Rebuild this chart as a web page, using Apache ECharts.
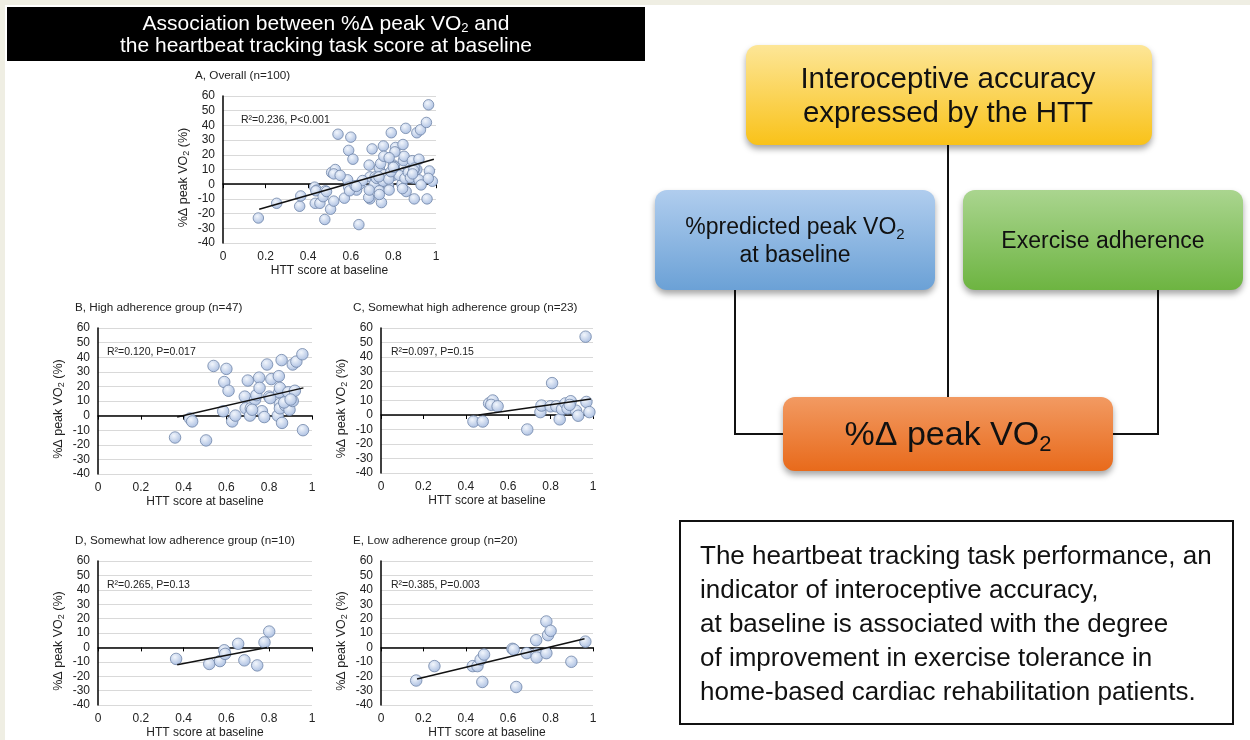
<!DOCTYPE html>
<html>
<head>
<meta charset="utf-8">
<script src="https://cdn.jsdelivr.net/npm/echarts@6/dist/echarts.min.js"></script>
<style>
html, body { margin: 0; padding: 0; background: #fff; }
#main { width: 1250px; height: 740px; }
</style>
</head>
<body>
<div id="main"></div>
<script>
// HTT score (x) vs %Δ peak VO2 (y), one list of points per adherence group
const highAdherence = [
    [0.36, -15], [0.43, -2], [0.44, -4], [0.505, -17], [0.54, 34], [0.60, 32], [0.59, 23], [0.61, 17],
    [0.585, 3], [0.627, -4], [0.642, 0], [0.70, 24], [0.686, 13], [0.69, 5], [0.714, 5], [0.71, 0],
    [0.734, 11], [0.74, 14], [0.753, 26], [0.755, 19], [0.766, 3], [0.777, -1], [0.79, 35], [0.80, 13],
    [0.81, 25], [0.84, 0], [0.845, 27], [0.847, 16], [0.85, 19], [0.85, 8], [0.85, 5], [0.858, 38],
    [0.86, -5], [0.875, 7], [0.886, 10], [0.889, 16], [0.895, 4], [0.91, 10], [0.91, 35], [0.927, 37],
    [0.92, 17], [0.955, 42], [0.958, -10], [0.72, 4], [0.805, 12], [0.87, 9], [0.90, 11]
];
const somewhatHighAdherence = [
    [0.436, -4.5], [0.48, -4.5], [0.51, 8], [0.527, 10], [0.52, 7], [0.55, 6], [0.69, -10], [0.752, 2],
    [0.757, 6.5], [0.807, 22], [0.80, 6], [0.843, -3], [0.827, 6], [0.854, 4], [0.87, 8], [0.88, 4.5],
    [0.895, 9.5], [0.92, 3], [0.93, -0.5], [0.965, 54], [0.969, 9], [0.983, 2], [0.89, 7]
];
const somewhatLowAdherence = [
    [0.365, -8], [0.52, -11.5], [0.57, -9.5], [0.59, -2], [0.594, -4.5], [0.655, 2.5], [0.684, -9],
    [0.744, -12.5], [0.778, 3.5], [0.80, 11]
];
const lowAdherence = [
    [0.166, -23], [0.252, -13], [0.433, -13], [0.455, -13], [0.47, -8.5], [0.486, -5], [0.478, -24],
    [0.62, -1], [0.626, -1.5], [0.638, -27.5], [0.687, -4], [0.732, 5], [0.734, -4.5], [0.734, -7],
    [0.78, 18], [0.788, 8.5], [0.80, 11.5], [0.78, -4], [0.898, -10], [0.964, 4]
];
const overall = highAdherence.concat(somewhatHighAdherence, somewhatLowAdherence, lowAdherence);

// fitted trend line end points for each panel
const trendA = [[0.17, -17], [0.99, 17]];
const trendB = [[0.37, -1], [0.96, 19]];
const trendC = [[0.46, 0], [0.99, 11]];
const trendD = [[0.37, -12], [0.79, 0]];
const trendE = [[0.17, -22], [0.96, 6]];

const panelTitles = [
    'A, Overall (n=100)',
    'B, High adherence group (n=47)',
    'C, Somewhat high adherence group (n=23)',
    'D, Somewhat low adherence group (n=10)',
    'E, Low adherence group (n=20)'
];
const statLabels = [
    'R²=0.236, P<0.001',
    'R²=0.120, P=0.017',
    'R²=0.097, P=0.15',
    'R²=0.265, P=0.13',
    'R²=0.385, P=0.003'
];
const summaryLines = [
    'The heartbeat tracking task performance, an',
    'indicator of interoceptive accuracy,',
    'at baseline is associated with the degree',
    'of improvement in exercise tolerance in',
    'home-based cardiac rehabilitation patients.'
];

const panelPoints = [overall, highAdherence, somewhatHighAdherence, somewhatLowAdherence, lowAdherence];
const panelTrends = [trendA, trendB, trendC, trendD, trendE];

// layout of the five small plots
const panelBoxes = [
    { left: 223, top: 96, width: 213, height: 147, statX: 18, titleX: 195 },
    { left: 98, top: 328, width: 214, height: 146, statX: 9, titleX: 75 },
    { left: 381, top: 328, width: 212, height: 145, statX: 10, titleX: 353 },
    { left: 98, top: 561, width: 214, height: 146, statX: 9, titleX: 75 },
    { left: 381, top: 561, width: 212, height: 146, statX: 10, titleX: 353 }
];

const FONT = '"Liberation Sans", Arial, sans-serif';

function initChart() {
    const chart = echarts.init(document.getElementById('main'));
    const grid = [], xAxis = [], yAxis = [], series = [], title = [];
    const graphic = [];

    panelBoxes.forEach((b, i) => {
        grid.push({ left: b.left, top: b.top, width: b.width, height: b.height });

        // zero line with small ticks
        xAxis.push({
            gridIndex: i, type: 'value', min: 0, max: 1, interval: 0.2,
            axisLine: { onZero: true, lineStyle: { color: '#000', width: 1.5 } },
            axisTick: { show: true, length: 4, lineStyle: { color: '#000' } },
            axisLabel: { show: false },
            splitLine: { show: false }
        });
        // labels along the bottom
        xAxis.push({
            gridIndex: i, type: 'value', min: 0, max: 1, interval: 0.2, position: 'bottom',
            axisLine: { show: false, onZero: false },
            axisTick: { show: false },
            axisLabel: { margin: 8, fontFamily: FONT, fontSize: 12, color: '#222' },
            splitLine: { show: false },
            name: 'HTT score at baseline', nameLocation: 'middle', nameGap: 22,
            nameTextStyle: { fontFamily: FONT, fontSize: 12, color: '#222' }
        });
        yAxis.push({
            gridIndex: i, type: 'value', min: -40, max: 60, interval: 10,
            axisLine: { show: true, onZero: false, lineStyle: { color: '#000', width: 1.5 } },
            axisTick: { show: false },
            axisLabel: { margin: 8, fontFamily: FONT, fontSize: 12, color: '#222' },
            splitLine: { lineStyle: { color: '#d9d9d9', width: 1 } },
            name: '{a|%Δ peak VO}{s|2}{a| (%)}', nameLocation: 'middle', nameRotate: 90, nameGap: 32,
            nameTextStyle: {
                padding: [0, 16, 0, 0],
                rich: {
                    a: { fontFamily: FONT, fontSize: 12.5, color: '#222', lineHeight: 15 },
                    s: { fontFamily: FONT, fontSize: 9, color: '#222', lineHeight: 10, verticalAlign: 'bottom' }
                }
            }
        });

        series.push({
            type: 'scatter', xAxisIndex: 2 * i, yAxisIndex: i,
            data: panelPoints[i],
            symbolSize: i === 0 ? 10.5 : 11.5,
            itemStyle: {
                color: new echarts.graphic.RadialGradient(0.4, 0.35, 0.75, [
                    { offset: 0, color: '#f2f6fc' },
                    { offset: 1, color: '#a2b8de' }
                ]),
                borderColor: '#7085a8', borderWidth: 0.8, opacity: 1
            },
            z: 3
        });
        series.push({
            type: 'line', xAxisIndex: 2 * i, yAxisIndex: i,
            data: panelTrends[i], symbol: 'none', silent: true,
            lineStyle: { color: '#111', width: 1.5 }, z: 4
        });

        title.push({
            text: panelTitles[i], padding: 0,
            left: b.titleX,
            top: b.top - 26,
            textStyle: { fontFamily: FONT, fontSize: 11.7, fontWeight: 'normal', color: '#222' }
        });
        graphic.push({
            type: 'text', left: b.left + b.statX, top: b.top + 19, z: 10,
            style: { text: statLabels[i], font: '10.5px ' + FONT, fill: '#222' }
        });
    });

    // page frame and header bar
    graphic.push(
        { type: 'rect', left: 0, top: 0, shape: { width: 1250, height: 5 }, style: { fill: '#efeee3' }, z: 0 },
        { type: 'rect', left: 0, top: 0, shape: { width: 5, height: 740 }, style: { fill: '#efeee3' }, z: 0 },
        { type: 'rect', left: 7, top: 7, shape: { width: 638, height: 54 }, style: { fill: '#000' }, z: 1 },
        {
            type: 'text', x: 326, y: 35, z: 2,
            style: {
                text: '{a|Association between %Δ peak VO}{s|2}{a| and}\n{a|the heartbeat tracking task score at baseline}',
                align: 'center', verticalAlign: 'middle',
                rich: {
                    a: { fontFamily: FONT, fontSize: 21, fill: '#fff', lineHeight: 22 },
                    s: { fontFamily: FONT, fontSize: 13, fill: '#fff', lineHeight: 12, verticalAlign: 'bottom' }
                }
            }
        }
    );

    // flow diagram on the right
    const box = (x, y, w, h, c1, c2) => ({
        type: 'rect', x: x, y: y, z: 5,
        shape: { width: w, height: h, r: 12 },
        style: {
            fill: new echarts.graphic.LinearGradient(0, 0, 0, 1, [
                { offset: 0, color: c1 }, { offset: 1, color: c2 }
            ]),
            shadowBlur: 6, shadowOffsetY: 4, shadowColor: 'rgba(0,0,0,0.35)'
        }
    });
    const wire = (pts) => ({
        type: 'polyline', z: 4, shape: { points: pts },
        style: { stroke: '#111', lineWidth: 2, fill: null }
    });
    graphic.push(
        wire([[948, 145], [948, 398]]),
        wire([[735, 290], [735, 434], [784, 434]]),
        wire([[1158, 290], [1158, 434], [1112, 434]]),
        box(746, 45, 406, 100, '#fde697', '#f9c219'),
        box(655, 190, 280, 100, '#b0cdee', '#6ba1d6'),
        box(963, 190, 280, 100, '#aad58f', '#6db441'),
        box(783, 397, 330, 74, '#f29a62', '#e86a1b'),
        {
            type: 'text', x: 948, y: 97, z: 6,
            style: {
                text: 'Interoceptive accuracy\nexpressed by the HTT', align: 'center', verticalAlign: 'middle',
                font: '29.5px ' + FONT, fill: '#111', lineHeight: 34
            }
        },
        {
            type: 'text', x: 795, y: 242, z: 6,
            style: {
                text: '{a|%predicted peak VO}{s|2}\n{a|at baseline}', align: 'center', verticalAlign: 'middle',
                rich: {
                    a: { fontFamily: FONT, fontSize: 23, fill: '#111', lineHeight: 28 },
                    s: { fontFamily: FONT, fontSize: 15, fill: '#111', lineHeight: 15, verticalAlign: 'bottom' }
                }
            }
        },
        {
            type: 'text', x: 1103, y: 242, z: 6,
            style: { text: 'Exercise adherence', align: 'center', verticalAlign: 'middle', font: '23px ' + FONT, fill: '#111' }
        },
        {
            type: 'text', x: 948, y: 436, z: 6,
            style: {
                text: '{a|%Δ peak VO}{s|2}', align: 'center', verticalAlign: 'middle',
                rich: {
                    a: { fontFamily: FONT, fontSize: 34, fill: '#111', lineHeight: 40 },
                    s: { fontFamily: FONT, fontSize: 22, fill: '#111', lineHeight: 20, verticalAlign: 'bottom' }
                }
            }
        },
        {
            type: 'rect', x: 680, y: 521, z: 5,
            shape: { width: 553, height: 203 },
            style: { fill: '#fff', stroke: '#111', lineWidth: 2 }
        },
        {
            type: 'text', x: 700, y: 540, z: 6,
            style: { text: summaryLines.join('\n'), font: '26px ' + FONT, fill: '#111', lineHeight: 34 }
        }
    );

    chart.setOption({
        backgroundColor: '#fff',
        animation: false,
        title: title,
        grid: grid,
        xAxis: xAxis,
        yAxis: yAxis,
        series: series,
        graphic: graphic
    });
    window.addEventListener('resize', () => chart.resize());
}

document.addEventListener('DOMContentLoaded', initChart);
</script>
</body>
</html>
